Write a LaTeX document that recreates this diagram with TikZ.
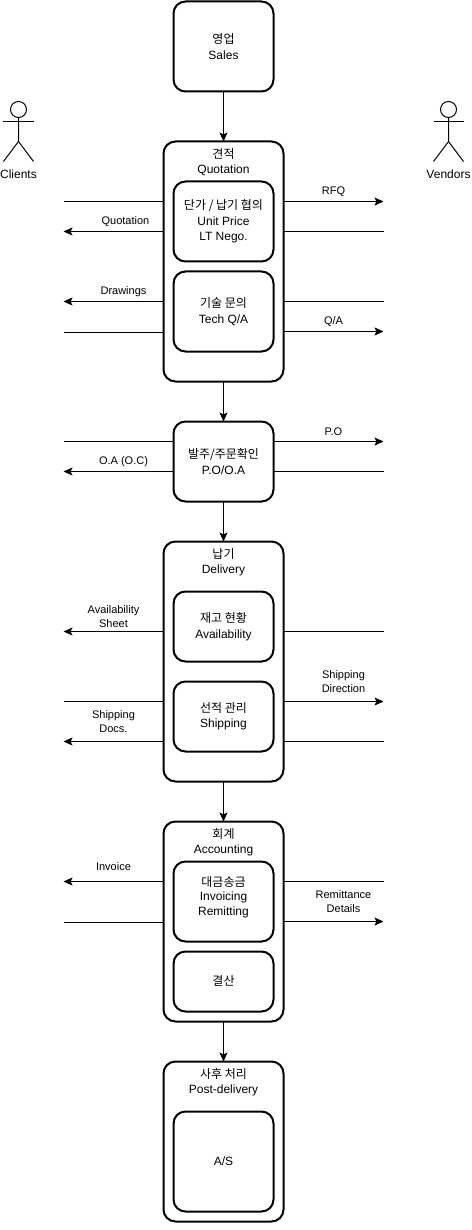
\documentclass[tikz,border=0pt]{standalone}
\usepackage{fontspec}
\setmainfont{Liberation Sans}
\newfontfamily\kr{Noto Sans CJK KR}
\usetikzlibrary{arrows.meta, positioning}

\begin{document}
\begin{tikzpicture}[
		  x=1pt, y=-1pt,
		  % Define the style of the process boxes
		  procbox/.style={draw, line width=2pt, rounded corners=12pt, inner sep=0pt, outer sep=0pt, align=center, font=\fontsize{12}{15.5}\selectfont},
		  % Define the style of the arrow between nodes
		  arrow/.style={-{Stealth[length=9pt, width=8pt, inset=2pt]}, line width=1pt},
		  % Define the style of the plain lines
		  plain/.style={line width=1pt},
		  % Define the style of the edge labels
		  flowlabel/.style={align=center, inner sep=0pt, font=\fontsize{11}{14}\selectfont},
		  % Define the style of the box titles
		  boxtitle/.style={align=center, inner sep=0pt, font=\fontsize{12}{14.5}\selectfont},
		  % Define the style of the actors
		  actorhead/.style={circle, draw, line width=1pt, minimum size=16pt, inner sep=0pt, outer sep=0pt},
		  actorlabel/.style={inner sep=0pt, font=\fontsize{12}{14}\selectfont}
		  ]
		  \useasboundingbox (-0.5,-0.5) rectangle (470.5,1229.5);

		  % Outer boxes
		  \foreach \n/\y/\h in {quotation/261/240, delivery/661/240, accounting/921/200, postdelivery/1141/160} {
		    \node[procbox, minimum width=120pt, minimum height=\h pt] (\n) at (223,\y) {};
		  }

		  % Boxes with text
		  \node[procbox, minimum width=100pt, minimum height=90pt] (sales) at (223,46) {{\kr 영업}\\Sales};
		  \node[procbox, minimum width=100pt, minimum height=80pt] (pooa) at (223,461) {{\kr 발주/주문확인}\\P.O/O.A};
		  \foreach \n/\y/\h/\t in {
		    nego/221/80/{{\kr 단가 / 납기 협의}\\Unit Price\\LT Nego.},
		    techqa/311/80/{{\kr 기술 문의}\\Tech Q/A},
		    avail/626/70/{{\kr 재고 현황}\\Availability},
		    shipping/716/70/{{\kr 선적 관리}\\Shipping},
		    invoicing/901/80/{},
		    closing/981/60/{\raisebox{1.5pt}{\kr 결산}},
		    as/1161/100/{A/S}} {
		    \node[procbox, minimum width=100pt, minimum height=\h pt] (\n) at (223,\y) {\t};
		  }

		  % Box titles
		  \foreach \n/\y/\t in {
		    quotationtitle/161.7/{{\kr 견적}\\Quotation},
		    deliverytitle/561.7/{{\kr 납기}\\Delivery},
		    accountingtitle/841.7/{{\kr 회계}\\Accounting},
		    invoicingtitle/896.5/{{\kr 대금송금}\\Invoicing\\Remitting},
		    postdeliverytitle/1081.7/{{\kr 사후 처리}\\Post-delivery}} {
		    \node[boxtitle] (\n) at (223,\y) {\t};
		  }

		  % Actors
		  \foreach \n/\t/\x in {clients/Clients/18, vendors/Vendors/448} {
		    \node[actorhead] (\n) at (\x,109) {};
		    \node[actorlabel] (\n label) at (\x,174) {\t};
		    \draw[plain] (\n.south) -- (\x,141) -- (\x-15,161);
		    \draw[plain] (\x,141) -- (\x+15,161);
		    \draw[plain] (\x-15,121) -- (\x+15,121);
		  }

		  % Connect the boxes
		  \foreach \a/\b in {sales/quotation, quotation/pooa, pooa/delivery, delivery/accounting, accounting/postdelivery} {
		    \draw[arrow] (\a) -- (\b);
		  }

		  % Flows on the clients side
		  \foreach \b/\y/\s [count=\i] in {quotation/201.5/plain, quotation/231/arrow, quotation/301/arrow, quotation/331.5/plain, pooa/441/plain, pooa/471/arrow, delivery/631/arrow, delivery/701/plain, delivery/741/arrow, accounting/881/arrow, accounting/921.5/plain} {
		    \coordinate (left\i) at (63,\y);
		    \draw[\s] (\b.west |- left\i) -- (left\i);
		  }

		  % Flows on the vendors side
		  \foreach \b/\y/\s [count=\i] in {quotation/201/arrow, quotation/231/plain, quotation/301/plain, quotation/331/arrow, pooa/441/arrow, pooa/471/plain, delivery/631/plain, delivery/701/arrow, delivery/741/plain, accounting/881/plain, accounting/921/arrow} {
		    \coordinate (right\i) at (383,\y);
		    \draw[\s] (\b.east |- right\i) -- (right\i);
		  }

		  % Flow labels
		  \foreach \n/\x/\y/\t in {
		    lquotation/125/221.5/Quotation, lrfq/333/191.5/RFQ, ldrawings/123/291.5/Drawings, lqa/333/321.5/{Q/A},
		    lpo/333/431/P.O, loa/123/461.5/{O.A (O.C)}, lavail/113/616/{Availability\\Sheet},
		    ldirection/343/681/{Shipping\\Direction}, ldocs/113/721/{Shipping\\Docs.},
		    linvoice/113/866/Invoice, lremit/343/901/{Remittance\\Details}} {
		    \node[flowlabel] (\n) at (\x,\y) {\t};
		  }
		\end{tikzpicture}
\end{document}
